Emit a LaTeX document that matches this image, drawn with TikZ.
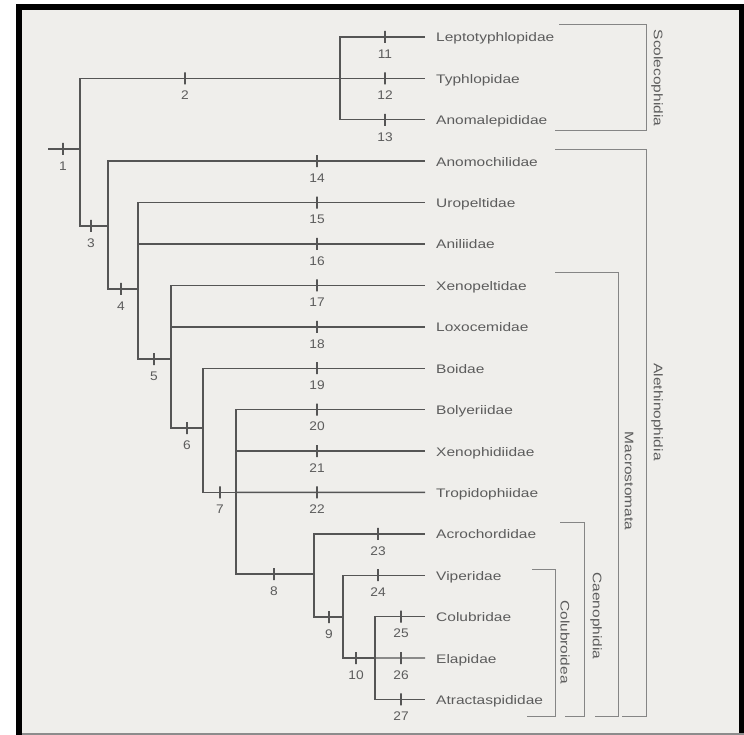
\documentclass[tikz,border=0pt]{standalone}
\usepackage{fontspec}
\setmainfont{Liberation Sans}
\newfontfamily\labfont[FakeStretch=1.25]{Liberation Sans}
\newfontfamily\numfont[FakeStretch=1.1]{Liberation Sans}
\definecolor{paper}{HTML}{EFEEEB}
\definecolor{treecol}{HTML}{555555}
\definecolor{txtcol}{HTML}{5C5C5C}
\definecolor{brcol}{HTML}{858585}
\newcommand\tickmark[3]{%
  \node[tk] (k#3) at (#1,#2) {};
  \node[num] (l#3) at (#1,#2+17) {#3};}
\begin{document}
\begin{tikzpicture}[x=1pt,y=-1pt,
  branch/.style={draw=treecol,line width=1.4pt},
  tk/.style={shape=rectangle,draw=treecol,line width=1.1pt,minimum width=0pt,minimum height=12pt,inner sep=0pt},
  num/.style={font=\numfont\fontsize{12.5}{13}\selectfont,text=txtcol,inner sep=0pt,anchor=center},
  taxon/.style={font=\labfont\fontsize{12.4}{14}\selectfont,text=txtcol,anchor=base west,inner sep=0pt},
  br/.style={draw=brcol,line width=1pt},
  clade/.style={font=\labfont\fontsize{12.4}{14}\selectfont,text=txtcol,rotate=-90,inner sep=0pt}]
\useasboundingbox (0,0) rectangle (744,735);
% page and frame
\fill[white] (0,0) rectangle (744,735);
\fill[black] (16,4) rectangle (744,735);
\fill[paper] (22,10) rectangle (739,733);
\fill[black!45] (22,733) rectangle (744,735);
% taxa
\foreach \nm [count=\i] in {Leptotyphlopidae,Typhlopidae,Anomalepididae,Anomochilidae,Uropeltidae,Aniliidae,Xenopeltidae,Loxocemidae,Boidae,Bolyeriidae,Xenophidiidae,Tropidophiidae,Acrochordidae,Viperidae,Colubridae,Elapidae,Atractaspididae}{
  \coordinate (t\i) at (425,{37+41.4*(\i-1)});
  \node[taxon] (n\i) at (436,{42+41.4*(\i-1)}) {\nm};
}
% internal nodes
\coordinate (r) at (48,149);
\coordinate (v1) at (80,149);
\coordinate (v2) at (340,78.4);
\coordinate (v3) at (108,226);
\coordinate (v4) at (138,289);
\coordinate (v5) at (171,359);
\coordinate (v6) at (203,428);
\coordinate (v7) at (236,492.4);
\coordinate (v8) at (314,574);
\coordinate (v9) at (343,617);
\coordinate (v10) at (375,658);
% branches
\draw[branch] (r) -- (v1);
\draw[branch] (v1) |- (v2);
\draw[branch] (v1) |- (v3);
\draw[branch] (v2) |- (t1);
\draw[branch] (v2) -- (t2);
\draw[branch] (v2) |- (t3);
\draw[branch] (v3) |- (t4);
\draw[branch] (v3) |- (v4);
\draw[branch] (v4) |- (t5);
\draw[branch] (v4) |- (t6);
\draw[branch] (v4) |- (v5);
\draw[branch] (v5) |- (t7);
\draw[branch] (v5) |- (t8);
\draw[branch] (v5) |- (v6);
\draw[branch] (v6) |- (t9);
\draw[branch] (v6) |- (v7);
\draw[branch] (v7) |- (t10);
\draw[branch] (v7) |- (t11);
\draw[branch] (v7) -- (t12);
\draw[branch] (v7) |- (v8);
\draw[branch] (v8) |- (t13);
\draw[branch] (v8) |- (v9);
\draw[branch] (v9) |- (t14);
\draw[branch] (v9) |- (v10);
\draw[branch] (v10) |- (t15);
\draw[branch] (v10) -- (t16);
\draw[branch] (v10) |- (t17);
% character ticks
\tickmark{63}{149}{1}
\tickmark{185}{78.4}{2}
\tickmark{91}{226}{3}
\tickmark{121}{289}{4}
\tickmark{154}{359}{5}
\tickmark{187}{428}{6}
\tickmark{220}{492.4}{7}
\tickmark{274}{574}{8}
\tickmark{329}{617}{9}
\tickmark{356}{658}{10}
\tickmark{385}{37}{11}
\tickmark{385}{78.4}{12}
\tickmark{385}{119.8}{13}
\tickmark{317}{161.2}{14}
\tickmark{317}{202.6}{15}
\tickmark{317}{244}{16}
\tickmark{317}{285.4}{17}
\tickmark{317}{326.8}{18}
\tickmark{317}{368.2}{19}
\tickmark{317}{409.6}{20}
\tickmark{317}{451}{21}
\tickmark{317}{492.4}{22}
\tickmark{378}{533.8}{23}
\tickmark{378}{575.2}{24}
\tickmark{401}{616.6}{25}
\tickmark{401}{658}{26}
\tickmark{401}{699.4}{27}
% clade brackets
\coordinate (sa) at (559,25);  \coordinate (sc) at (646,131); \coordinate (sd) at (555,131);
\coordinate (aa) at (555,150); \coordinate (ac) at (646,716); \coordinate (ad) at (622,716);
\coordinate (ma) at (555,273); \coordinate (mc) at (618,716); \coordinate (md) at (595,716);
\coordinate (ca) at (560,522); \coordinate (cc) at (584,716); \coordinate (cd) at (565,716);
\coordinate (ka) at (532,569); \coordinate (kc) at (555,716); \coordinate (kd) at (527,716);
\draw[br] (sa) -| (sc) -- (sd);
\draw[br] (aa) -| (ac) -- (ad);
\draw[br] (ma) -| (mc) -- (md);
\draw[br] (ca) -| (cc) -- (cd);
\draw[br] (ka) -| (kc) -- (kd);
\node[clade] (scol) at (657,78) {Scolecophidia};
\node[clade] (alet) at (657,412) {Alethinophidia};
\node[clade] (macr) at (629,481) {Macrostomata};
\node[clade] (caen) at (596,616) {Caenophidia};
\node[clade] (colu) at (565,642) {Colubroidea};
\end{tikzpicture}
\end{document}
